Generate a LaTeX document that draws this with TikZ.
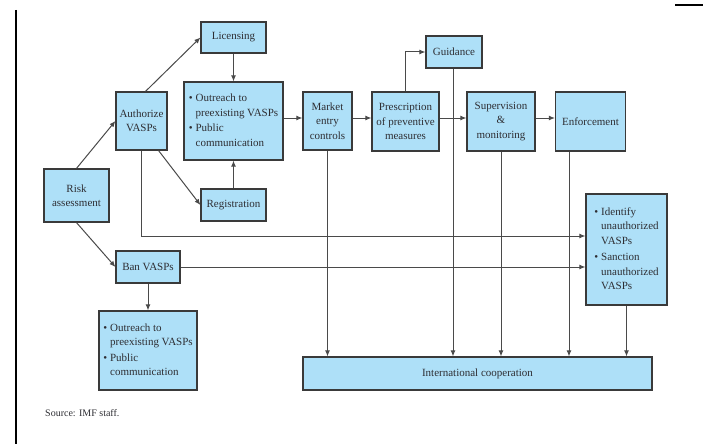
\documentclass[tikz,border=0pt]{standalone}
\usepackage{fontspec}
\setmainfont{Liberation Serif}
\usetikzlibrary{arrows.meta,calc}
\definecolor{boxfill}{HTML}{AEE0F8}
\definecolor{boxline}{HTML}{3A3A3A}
\definecolor{conn}{HTML}{4A4A4A}
\definecolor{txt}{HTML}{2E2E33}
\newcommand{\bitems}[1]{\begin{tabular}{@{}l@{\hspace{3pt}}l@{}}#1\end{tabular}}
\begin{document}
\begin{tikzpicture}[x=1pt,y=-1pt,
  box/.style={draw=boxline,fill=boxfill,line width=1.2pt,inner sep=0pt,align=center,
    text=txt,font=\fontsize{11}{14.5}\selectfont},
  conarrow/.style={draw=conn,line width=1pt,-{Latex[length=6pt,width=5pt]}},
  conline/.style={draw=conn,line width=1pt}]
\useasboundingbox (0,0) rectangle (703,444);
\fill[white] (0,0) rectangle (703,444);
% frame lines
\coordinate (fl1) at (16,10);
\coordinate (fl2) at (16,444);
\draw[line width=2pt,black] (fl1) -- (fl2);
\coordinate (tl1) at (675,5);
\coordinate (tl2) at (703,5);
\draw[line width=1.5pt,black] (tl1) -- (tl2);
% nodes
\node[box,minimum width=65pt,minimum height=31pt] (lic) at (233.5,37.5) {Licensing};
\node[box,minimum width=99pt,minimum height=78pt] (out1) at (233.5,121)
  {\bitems{\textbullet & Outreach to\\ & preexisting VASPs\\[1pt] \textbullet & Public\\ & communication}};
\node[box,minimum width=51pt,minimum height=58pt] (auth) at (141.5,121) {Authorize\\VASPs};
\node[box,minimum width=49pt,minimum height=58pt] (mkt) at (327.5,121) {Market\\entry\\controls};
\node[box,minimum width=65pt,minimum height=53pt] (risk) at (76.5,195.5) {Risk\\assessment};
\node[box,minimum width=65pt,minimum height=32pt] (reg) at (233.5,205) {Registration};
\node[box,minimum width=56pt,minimum height=32pt] (guid) at (454,52) {Guidance};
\node[box,minimum width=67pt,minimum height=59pt] (presc) at (405.5,121.5) {Prescription\\of preventive\\measures};
\node[box,minimum width=68pt,minimum height=59pt] (sup) at (501,121.5) {Supervision\\\&\\monitoring};
\node[box,minimum width=70pt,minimum height=59pt] (enf) at (590.5,121.5) {Enforcement};
\node[box,minimum width=81pt,minimum height=111pt] (ident) at (626.5,249.5)
  {\bitems{\textbullet & Identify\\ & unauthorized\\ & VASPs\\[2pt] \textbullet & Sanction\\ & unauthorized\\ & VASPs}};
\node[box,minimum width=64pt,minimum height=32pt] (ban) at (148,267) {Ban VASPs};
\node[box,minimum width=98pt,minimum height=79pt] (out2) at (148,350.5)
  {\bitems{\textbullet & Outreach to\\ & preexisting VASPs\\[1pt] \textbullet & Public\\ & communication}};
\node[box,minimum width=349pt,minimum height=33pt] (intl) at (477.5,373.5) {International cooperation};
\node[anchor=west,inner sep=0pt,text=txt,font=\fontsize{10}{12}\selectfont] (src) at (45,413) {Source: IMF staff.};
% connectors
\draw[conarrow] (risk.north) -- (auth.west);
\draw[conarrow] (risk.south) -- (ban.west);
\draw[conarrow] ([xshift=4pt]auth.north) -- (lic.west);
\draw[conarrow] ([xshift=-9pt]auth.south east) -- (reg.west);
\draw[conarrow] (lic.south) -- (out1.north);
\draw[conarrow] (reg.north) -- (out1.south);
\draw[conarrow] ([yshift=3pt]out1.east) -- ([yshift=3pt]mkt.west);
\draw[conarrow] ([yshift=3pt]mkt.east) -- ([yshift=3.5pt]presc.west);
\draw[conarrow] ([yshift=3.5pt]presc.east) -- ([yshift=3.5pt]sup.west);
\draw[conarrow] ([yshift=3.5pt]sup.east) -- ([yshift=3.5pt]enf.west);
\draw[conarrow] (presc.north) |- (guid.west);
\draw[conarrow] (auth.south) |- ([yshift=13.5pt]ident.west);
\draw[conarrow] (ban.east) -- (ban.east -| ident.west);
\draw[conarrow] (ban.south) -- (out2.north);
\draw[conarrow] (mkt.south) -- (mkt.south |- intl.north);
\draw[conarrow] ([xshift=-1pt]guid.south) -- ([xshift=-1pt]guid.south |- intl.north);
\draw[conarrow] (sup.south) -- (sup.south |- intl.north);
\draw[conarrow] ([xshift=-21.5pt]enf.south) -- ([xshift=-21.5pt]enf.south |- intl.north);
\draw[conarrow] (ident.south) -- (ident.south |- intl.north);
\end{tikzpicture}
\end{document}
